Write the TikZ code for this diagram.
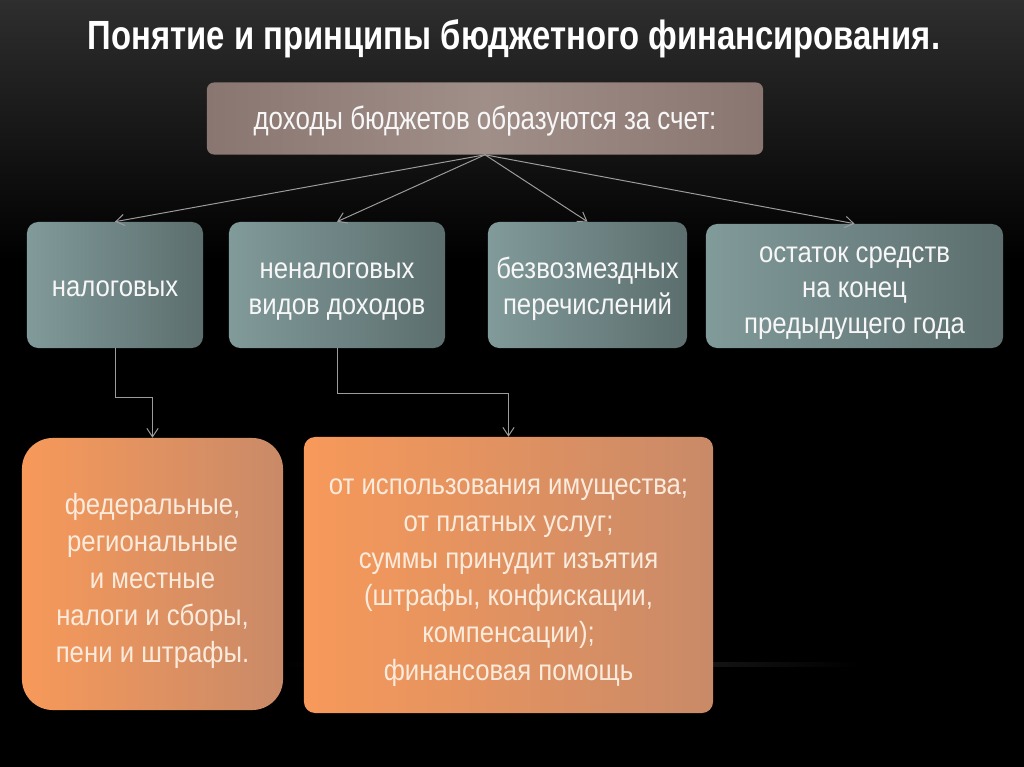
\documentclass[tikz,border=0pt]{standalone}
\usepackage{fontspec}
\setmainfont[FakeStretch=0.88]{Liberation Sans}
\newfontfamily\narrowfont[FakeStretch=0.805]{Liberation Sans}
\usetikzlibrary{arrows.meta}
\definecolor{bgtop}{HTML}{2E2E2E}
\definecolor{tealL}{HTML}{819A9A}
\definecolor{tealR}{HTML}{5C6E6E}
\definecolor{brownL}{HTML}{8A7670}
\definecolor{brownM}{HTML}{A08E88}
\definecolor{orangeL}{HTML}{F7995A}
\definecolor{orangeR}{HTML}{C98A68}
\definecolor{linkgray}{HTML}{9C9C9C}
\definecolor{creamtext}{HTML}{FBEBDD}
% lines of a box, lowered a little inside it
\newcommand{\boxtext}[2]{\raisebox{-#1}[\height][\depth]{\begin{tabular}{@{}c@{}}#2\end{tabular}}}
\begin{document}
\begin{tikzpicture}[x=0.025cm, y=-0.025cm,
                    textbox/.style={font=\fontsize{20.8}{25.3}\selectfont,
                                    text=white!94!gray, inner sep=0pt},
                    headbox/.style={textbox, rounded corners=5pt,
                                    font=\narrowfont\fontsize{22.9}{27}\selectfont,
                                    left color=brownL, right color=brownL, middle color=brownM},
                    kindbox/.style={textbox, rounded corners=8pt,
                                    left color=tealL, right color=tealR},
                    listbox/.style={textbox, text=creamtext,
                                    font=\fontsize{20.8}{26.4}\selectfont,
                                    left color=orangeL, right color=orangeR},
                    link/.style={draw=linkgray, line width=0.7pt,
                                 -{Straight Barb[length=6pt,width=8pt]}}]
% background
\fill[black] (0,0) rectangle (1024,767);
\shade[top color=bgtop, bottom color=black] (0,0) rectangle (1024,260);
\shade[left color=black, right color=black, middle color=black!70!white, opacity=0.5]
      (283,662) rectangle (860,666);
% title
\node[text=white, font=\narrowfont\fontsize{29}{34}\selectfont\bfseries] (title) at (514,39)
      {Понятие и принципы бюджетного финансирования.};
% top box
\node[headbox, minimum width=13.9cm, minimum height=1.8cm] (head) at (485,118.5)
      {\boxtext{2.6pt}{доходы бюджетов образуются за счет:}};
% second row
\node[kindbox, minimum width=4.4cm, minimum height=3.15cm] (tax) at (115,285)
      {\boxtext{3.3pt}{налоговых}};
\node[kindbox, minimum width=5.4cm, minimum height=3.15cm] (nontax) at (337,285)
      {\boxtext{3.3pt}{неналоговых\\видов доходов}};
\node[kindbox, minimum width=4.975cm, minimum height=3.15cm] (free) at (587.5,285)
      {\boxtext{3.3pt}{безвозмездных\\перечислений}};
\node[kindbox, minimum width=7.425cm, minimum height=3.1cm] (rest) at (854.5,286)
      {\boxtext{3.3pt}{остаток средств\\на конец\\предыдущего года}};
% bottom row
\node[listbox, rounded corners=22pt, minimum width=6.525cm, minimum height=6.8cm] (taxlist) at (152.5,574)
      {\boxtext{5.1pt}{федеральные,\\региональные\\и местные\\налоги и сборы,\\пени и штрафы.}};
\node[listbox, rounded corners=8pt, minimum width=10.225cm, minimum height=6.9cm] (nontaxlist) at (508.5,575)
      {\boxtext{3.4pt}{от использования имущества;\\от платных услуг;\\суммы принудит изъятия\\(штрафы, конфискации,\\компенсации);\\финансовая помощь}};
% connectors
\foreach \n in {tax,nontax,free,rest}
  \draw[link] (head.south) -- (\n.north);
\draw[link] (tax.south) -- ++(0,49) -| (taxlist.north);
\draw[link] (nontax.south) -- ++(0,45) -| (nontaxlist.north);
\end{tikzpicture}
\end{document}
